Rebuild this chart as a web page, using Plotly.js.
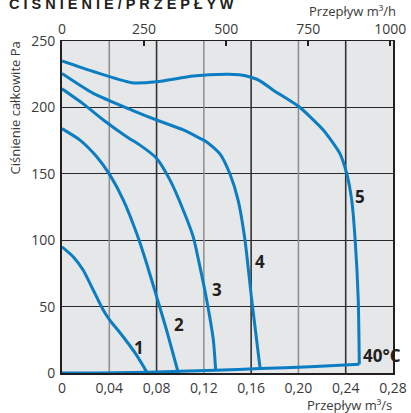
<!DOCTYPE html>
<html><head><meta charset="utf-8">
<script src="https://cdn.plot.ly/plotly-3.0.1.min.js"></script>
<style>html,body{margin:0;padding:0;background:#fff;overflow:hidden}</style>
</head><body><div id="chart" style="width:411px;height:413px"></div>
<script>
// ---- data (flow in m3/s, pressure in Pa) ----
const flowTicksS = [0, 0.04, 0.08, 0.12, 0.16, 0.20, 0.24, 0.28];
const flowTickTextS = ['0', '0,04', '0,08', '0,12', '0,16', '0,20', '0,24', '0,28'];
const flowTicksH = [0, 250, 500, 750, 1000];
const flowTickTextH = ['0', '250', '500', '750', '1000'];
const pressureTicks = [0, 50, 100, 150, 200, 250];
const gridLight = [0.04, 0.12, 0.20];
const gridDark = [0.08, 0.16, 0.24];

const curve1Flow = [0, 0.0096, 0.018, 0.0265, 0.035, 0.0406, 0.0519, 0.0632, 0.0722];
const curve1Pressure = [95, 87.4, 77.4, 62.3, 47.3, 39.7, 27.1, 13.3, 0];

const curve2Flow = [0, 0.0152, 0.0294, 0.0406, 0.0519, 0.0632, 0.0716, 0.0801, 0.0885, 0.0984];
const curve2Pressure = [184, 175.4, 162.8, 149, 130.2, 105, 82.5, 57.3, 32.2, 0];

const curve3Flow = [0, 0.0175, 0.035, 0.0547, 0.066, 0.0801, 0.0914, 0.1026, 0.111, 0.1167, 0.1224, 0.128, 0.130];
const curve3Pressure = [214, 203, 190.5, 177.9, 171.6, 161.6, 145.2, 122.6, 102.5, 79.9, 55, 25, 2];

const curve4Flow = [0, 0.0265, 0.059, 0.080, 0.1026, 0.1167, 0.1224, 0.1336, 0.142, 0.149, 0.1548, 0.1605, 0.1675];
const curve4Pressure = [225.6, 210.6, 198, 190.5, 183, 176.7, 174, 165, 150, 130, 100, 55, 4];

const curve5Flow = [0, 0.0265, 0.059, 0.080, 0.111, 0.139, 0.150, 0.1605, 0.1675, 0.1787, 0.2005, 0.221, 0.235, 0.2408, 0.2451, 0.248, 0.2506, 0.2515];
const curve5Pressure = [235, 227, 218.6, 219.3, 223.6, 224.9, 224.5, 222.5, 220, 213, 200.5, 183, 165.4, 150.3, 130, 100, 55, 6.5];

const systemFlow = [0, 0.03, 0.06, 0.0998, 0.130, 0.1675, 0.21, 0.2515];
const systemPressure = [0, 0, 0.3, 1.3, 2, 3.3, 4.8, 6.5];

const curveLabels = ['1', '2', '3', '4', '5', '40°C'];

const titleText = 'C I Ś N I E N I E / P R Z E P Ł Y W';
const yTitleText = 'Ciśnienie całkowite Pa';
const topTitleText = 'Przepływ m³/h';
const bottomTitleText = 'Przepływ m³/s';

// ---- styling ----
const blue = '#0b7dc3';
const textGray = '#3a3a3a';
const dark = '#231f20';
const lineStyle = {color: blue, width: 3, shape: 'spline', smoothing: 0.6};

// vertical grid lines drawn through the x scale (gray / dark alternating)
function gridTrace(vals, color, width) {
  const xs = [], ys = [];
  vals.forEach(v => { xs.push(v, v, null); ys.push(pressureTicks[0], pressureTicks[pressureTicks.length - 1], null); });
  return {x: xs, y: ys, type: 'scatter', mode: 'lines', line: {color: color, width: width},
    hoverinfo: 'skip', showlegend: false};
}
const traces = [gridTrace(gridLight, '#8d8d8d', 1.5), gridTrace(gridDark, '#333333', 1.6)];

const series = [
  [curve1Flow, curve1Pressure], [curve2Flow, curve2Pressure], [curve3Flow, curve3Pressure],
  [curve4Flow, curve4Pressure], [curve5Flow, curve5Pressure]
];
series.forEach(s => traces.push({
  x: s[0], y: s[1], type: 'scatter', mode: 'lines', line: lineStyle,
  hoverinfo: 'skip', showlegend: false
}));
traces.push({x: systemFlow, y: systemPressure, type: 'scatter', mode: 'lines',
  line: {color: blue, width: 3, shape: 'spline', smoothing: 0.5}, hoverinfo: 'skip', showlegend: false});
// invisible anchor so the top (m3/h) axis gets drawn
traces.push({x: [0], y: [0], xaxis: 'x2', yaxis: 'y', type: 'scatter',
  mode: 'markers', marker: {opacity: 0}, hoverinfo: 'skip', showlegend: false});

// label anchor points (data coordinates)
const labelPos = [[0.0651, 19.4], [0.0987, 36.7], [0.1309, 62.6], [0.1675, 83.7], [0.2525, 132.7], [0.2707, 13]];
const annotations = curveLabels.map((t, i) => ({
  text: t, x: labelPos[i][0], y: labelPos[i][1], xref: 'x', yref: 'y',
  showarrow: false, xanchor: 'center', yanchor: 'middle',
  font: {family: 'Open Sans', size: 17, color: dark, weight: 'bold'}
}));
annotations.push(
  {text: titleText, xref: 'paper', yref: 'paper', x: 0, y: 1, xshift: -55, yshift: 38,
   xanchor: 'left', yanchor: 'middle', showarrow: false,
   font: {family: 'Liberation Sans', size: 14.5, color: dark, weight: 'bold'}},
  {text: topTitleText, xref: 'paper', yref: 'paper', x: 1, y: 1, xshift: 5, yshift: 30,
   xanchor: 'right', yanchor: 'middle', showarrow: false,
   font: {family: 'Open Sans', size: 13, color: textGray}},
  {text: bottomTitleText, xref: 'paper', yref: 'paper', x: 1, y: 0, xshift: 1, yshift: -32,
   xanchor: 'right', yanchor: 'middle', showarrow: false,
   font: {family: 'Open Sans', size: 13, color: textGray}},
  {text: yTitleText, xref: 'paper', yref: 'paper', x: 0, y: 1, xshift: -48, yshift: 1,
   xanchor: 'center', yanchor: 'top', textangle: -90, showarrow: false,
   font: {family: 'Open Sans', size: 13, color: textGray}}
);

const tickFont = {family: 'Open Sans', size: 14, color: textGray};
const layout = {
  width: 411, height: 413,
  margin: {l: 62, r: 18, t: 41, b: 40},
  paper_bgcolor: '#ffffff', plot_bgcolor: '#e6e7e8',
  showlegend: false,
  xaxis: {range: [0, 0.28], tickvals: flowTicksS, ticktext: flowTickTextS, tickfont: tickFont,
    showgrid: false, zeroline: false, ticks: '', showline: true, linecolor: dark, linewidth: 2,
    layer: 'below traces', ticklabelstandoff: 1},
  xaxis2: {overlaying: 'x', side: 'top', anchor: 'y', range: [0, 0.28 * 3600],
    tickvals: flowTicksH, ticktext: flowTickTextH, tickfont: tickFont,
    showgrid: false, zeroline: false, ticks: 'inside', ticklen: 5, tickwidth: 2, tickcolor: dark,
    showline: true, linecolor: dark, linewidth: 1.5},
  yaxis: {range: [0, 250], tickvals: pressureTicks, tickfont: tickFont,
    showgrid: true, gridcolor: '#2a2a2a', gridwidth: 1, zeroline: false, ticks: '',
    showline: true, mirror: true, linecolor: dark, linewidth: 2, ticklabelstandoff: 2},
  annotations: annotations
};

Plotly.newPlot('chart', traces, layout, {staticPlot: true, displayModeBar: false});
</script>
</body></html>
